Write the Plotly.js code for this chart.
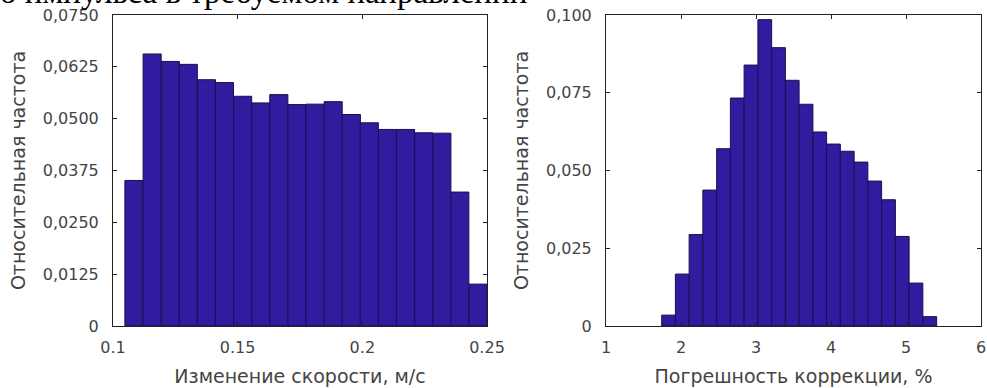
<!DOCTYPE html>
<html>
<head>
<meta charset="utf-8">
<script src="https://cdn.plot.ly/plotly-3.0.1.min.js"></script>
<style>
html,body{margin:0;padding:0;background:#fff;}
#chart{width:987px;height:388px;}
</style>
</head>
<body>
<div id="chart"></div>
<script>
// ---- data ----
const speedBinCenters = [0.1084,0.1157,0.1230,0.1302,0.1375,0.1447,0.1520,0.1593,0.1665,0.1738,
                         0.1810,0.1883,0.1956,0.2028,0.2101,0.2173,0.2246,0.2319,0.2391,0.2464];
const speedBinWidth = 0.00726;
const speedFreq = [0.0351,0.0656,0.0638,0.0631,0.0594,0.0587,0.0554,0.0538,0.0558,0.0534,
                   0.0535,0.0541,0.0510,0.0490,0.0474,0.0474,0.0466,0.0465,0.0323,0.0101];

const errBinCenters = [1.834,2.017,2.200,2.383,2.567,2.750,2.933,3.117,3.300,3.483,
                       3.667,3.850,4.033,4.217,4.400,4.583,4.767,4.950,5.133,5.317];
const errBinWidth = 0.1833;
const errFreq = [0.0035,0.0167,0.0294,0.0437,0.0570,0.0733,0.0839,0.0985,0.0895,0.0790,
                 0.0713,0.0624,0.0585,0.0562,0.0527,0.0466,0.0406,0.0288,0.0138,0.0030];

const leftXTicks = [0.1,0.15,0.2,0.25];
const leftXTickText = ['0.1','0.15','0.2','0.25'];
const leftYTicks = [0,0.0125,0.025,0.0375,0.05,0.0625,0.075];
const leftYTickText = ['0','0,0125','0,0250','0,0375','0,0500','0,0625','0,0750'];
const rightXTicks = [1,2,3,4,5,6];
const rightXTickText = ['1','2','3','4','5','6'];
const rightYTicks = [0,0.025,0.05,0.075,0.1];
const rightYTickText = ['0','0,025','0,050','0,075','0,100'];

const headText = 'о импульса в требуемом направлении';
const leftXTitle = 'Изменение скорости, м/с';
const rightXTitle = 'Погрешность коррекции, %';
const yTitle = 'Относительная частота';

// ---- style ----
const barColor = '#2f1c9e';
const edgeColor = '#1a1050';
const axisColor = '#222';
const textColor = '#444';
const tickFont = {family:'DejaVu Sans, sans-serif', size:16, color:textColor};
const titleFont = {family:'DejaVu Sans, sans-serif', size:19, color:textColor};

const traces = [
  {type:'bar', x:speedBinCenters, y:speedFreq, width:speedBinWidth,
   marker:{color:barColor, line:{color:edgeColor, width:1}},
   xaxis:'x', yaxis:'y', hoverinfo:'x+y', showlegend:false},
  {type:'bar', x:errBinCenters, y:errFreq, width:errBinWidth,
   marker:{color:barColor, line:{color:edgeColor, width:1}},
   xaxis:'x2', yaxis:'y2', hoverinfo:'x+y', showlegend:false}
];

function xax(domain, range, tv, tt, title, anchor){
  return {domain:domain, range:range, tickmode:'array', tickvals:tv, ticktext:tt,
    ticks:'inside', ticklen:4, tickcolor:axisColor, showline:true, linecolor:axisColor, linewidth:1,
    mirror:'ticks', showgrid:false, zeroline:false, tickfont:tickFont, ticklabelstandoff:7,
    title:{text:title, font:titleFont, standoff:13}, anchor:anchor, fixedrange:true};
}
function yax(domain, range, tv, tt, anchor){
  return {domain:domain, range:range, tickmode:'array', tickvals:tv, ticktext:tt,
    ticks:'inside', ticklen:4, tickcolor:axisColor, showline:true, linecolor:axisColor, linewidth:1,
    mirror:'ticks', showgrid:false, zeroline:false, tickfont:tickFont, ticklabelstandoff:10,
    title:{text:yTitle, font:titleFont, standoff:12}, anchor:anchor, fixedrange:true};
}

const W = 987, H = 388;
const yDom = [1-326/H, 1-15/H];
const layout = {
  width:W, height:H,
  margin:{l:0,r:0,t:0,b:0, autoexpand:false},
  paper_bgcolor:'#fff', plot_bgcolor:'#fff',
  bargap:0,
  xaxis: xax([113/W, 487/W], [0.1,0.25], leftXTicks, leftXTickText, leftXTitle, 'y'),
  yaxis: yax(yDom, [0,0.075], leftYTicks, leftYTickText, 'x'),
  xaxis2: xax([606/W, 981/W], [1,6], rightXTicks, rightXTickText, rightXTitle, 'y2'),
  yaxis2: yax(yDom, [0,0.1], rightYTicks, rightYTickText, 'x2'),
  annotations:[
    {text:headText, xref:'paper', yref:'paper', x:-0.002, y:1+8/H, xanchor:'left', yanchor:'middle',
     showarrow:false, font:{family:'Liberation Serif, Times New Roman, serif', size:33, color:'#000'}}
  ]
};

Plotly.newPlot('chart', traces, layout, {displayModeBar:false, staticPlot:true});
</script>
</body>
</html>
